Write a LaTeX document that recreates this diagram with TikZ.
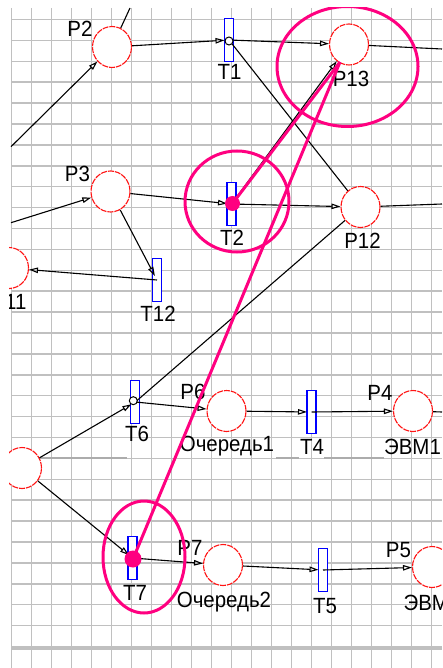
\documentclass[tikz,border=0pt]{standalone}
\usepackage{fontspec}
\setmainfont{Liberation Sans}
\newfontfamily\netfont[FakeStretch=0.93]{Liberation Sans}
\usetikzlibrary{arrows.meta,shapes.geometric}
\definecolor{gridgray}{RGB}{192,192,192}
\definecolor{gridseam}{RGB}{172,172,172}
\definecolor{placered}{RGB}{255,20,20}
\definecolor{transblue}{RGB}{0,0,255}
\definecolor{markpink}{RGB}{255,0,128}
\tikzset{
  gridline/.style={draw=gridgray, line width=1.5pt},
  pl/.style={ellipse, draw=placered, line width=1.1pt, dash pattern=on 6pt off 1pt,
    fill=white, minimum width=39pt, minimum height=41pt, inner sep=0pt},
  tr/.style={rectangle, draw=transblue, line width=1.2pt, fill=white,
    minimum width=9pt, minimum height=42.5pt, inner sep=0pt},
  pnarc/.style={draw=black, line width=1.1pt},
  arrowed/.style={-{Triangle[open,length=9pt,width=5.5pt]}},
  intr/.style={arrowed, shorten >=4.5pt},
  lbl/.style={inner sep=0pt, font=\netfont\fontsize{22}{22}\selectfont},
  ring/.style={circle, draw=black, fill=white, line width=1pt, minimum size=8pt, inner sep=0pt},
  hilite/.style={draw=markpink, line width=3pt},
  tokendot/.style={circle, fill=markpink, inner sep=0pt},
}
\begin{document}
\begin{tikzpicture}[x=1pt,y=-1pt]
\useasboundingbox (0,0) rectangle (442,668);
\fill[white] (0,0) rectangle (442,668);
\begin{scope}
\clip (9,8) rectangle (442,668);
% background grid
\foreach \k in {0,...,21} \draw[gridline] ({11.5+20*\k},8) -- ({11.5+20*\k},668);
\foreach \k in {0,...,30} \draw[gridline] (11,{19.5+20.9*\k}) -- (442,{19.5+20.9*\k});
\draw[draw=gridseam, line width=2pt] (11,458.4) -- (127,458.4) (276,458.4) -- (299,458.4) (324,458.4) -- (384,458.4);
\draw[draw=gridgray, line width=3.5pt] (11,648) -- (442,648);

% places
\node[pl] (P2)  at (112,47) {};
\node[pl] (P3)  at (110.5,191.5) {};
\node[pl] (P13) at (349,44.5) {};
\node[pl] (P12) at (360.5,207) {};
\node[pl] (P11) at (9,268) {};
\node[pl] (Pw)  at (22,468) {};
\node[pl] (P6)  at (226.5,411) {};
\node[pl] (P4)  at (413,411) {};
\node[pl] (P7)  at (223,565) {};
\node[pl] (P5)  at (432,567) {};

% transitions
\node[tr] (T1)  at (229,40) {};
\node[tr] (T2)  at (231.5,204) {};
\node[tr] (T12) at (157,280) {};
\node[tr] (T6)  at (135.3,402) {};
\node[tr] (T4)  at (311.5,412) {};
\node[tr] (T7)  at (132.5,558) {};
\node[tr] (T5)  at (323,570) {};

% free ends at the border of the view
\coordinate (inP2)   at (11,146.7);
\coordinate (upP2)   at (130,8);
\coordinate (inP3)   at (11,222.7);
\coordinate (outP13) at (442,49);
\coordinate (outP12) at (442,204);
\coordinate (outP4)  at (442,412);

% arcs
\draw[pnarc, arrowed] (inP2) -- (P2);
\draw[pnarc] (P2) -- (upP2);
\draw[pnarc, intr] (P2) -- (T1.center);
\draw[pnarc, arrowed] (T1.center) -- (P13);
\draw[pnarc] (T1.center) -- (P12);
\draw[pnarc] (P13) -- (outP13);
\draw[pnarc, arrowed] (inP3) -- (P3);
\draw[pnarc, intr] (P3) -- (T2.center);
\draw[pnarc, arrowed] (T2.center) -- (P12);
\draw[pnarc, arrowed] (T2.center) -- (P13);
\draw[pnarc] (P12) -- (outP12);
\draw[pnarc, intr] (P3) -- (T12.center);
\draw[pnarc, arrowed] (T12.center) -- (P11);
\draw[pnarc, intr] (Pw) -- (T6.center);
\draw[pnarc] (T6.center) -- (P12);
\draw[pnarc, arrowed] (T6.center) -- (P6);
\draw[pnarc, intr] (P6) -- (T4.center);
\draw[pnarc, arrowed] (T4.center) -- (P4);
\draw[pnarc] (P4) -- (outP4);
\draw[pnarc, intr] (Pw) -- (T7.center);
\draw[pnarc, arrowed] (T7.center) -- (P7);
\draw[pnarc, intr] (P7) -- (T5.center);
\draw[pnarc, arrowed] (T5.center) -- (P5);

\node[ring] (r1) at (229,41) {};
\node[ring] (r6) at (133.3,400.7) {};

% names
\node[lbl] (lP2)  at (80,28.5) {P2};
\node[lbl] (lP3)  at (77.5,173.5) {P3};
\node[lbl] (lP13) at (351,79) {P13};
\node[lbl] (lT1)  at (229.5,72) {T1};
\node[lbl] (lT2)  at (232,237.5) {T2};
\node[lbl] (lP12) at (362.5,241) {P12};
\node[lbl] (lT12) at (158,314) {T12};
\node[lbl] (lP11) at (9,302) {P11};
\node[lbl] (lT6)  at (137,434) {T6};
\node[lbl] (lP6)  at (193,392) {P6};
\node[lbl] (lQ1)  at (227,446.5) {Очередь1};
\node[lbl] (lT4)  at (312,446.5) {T4};
\node[lbl] (lP4)  at (380,393) {P4};
\node[lbl] (lE1)  at (412.5,446.5) {ЭВМ1};
\node[lbl] (lT7)  at (135,592.5) {T7};
\node[lbl] (lP7)  at (190,548) {P7};
\node[lbl] (lQ2)  at (224,602) {Очередь2};
\node[lbl] (lT5)  at (325,606) {T5};
\node[lbl] (lP5)  at (398.5,550) {P5};
\node[lbl] (lE2)  at (432,603) {ЭВМ2};

% highlighted marks
\draw[hilite] (347.5,66.5) ellipse [x radius=70.5, y radius=60];
\draw[hilite] (237,201.5) ellipse [x radius=52, y radius=50.5];
\draw[hilite] (144,557) ellipse [x radius=41, y radius=56];
\node[tokendot, minimum size=15pt] (d2) at (232.5,203.5) {};
\node[tokendot, minimum size=17pt] (d7) at (133,559) {};
\coordinate (hit) at (340,62);
\draw[hilite] (d2.center) -- (hit);
\draw[hilite] (d7.center) -- (hit);
\end{scope}
\end{tikzpicture}
\end{document}
